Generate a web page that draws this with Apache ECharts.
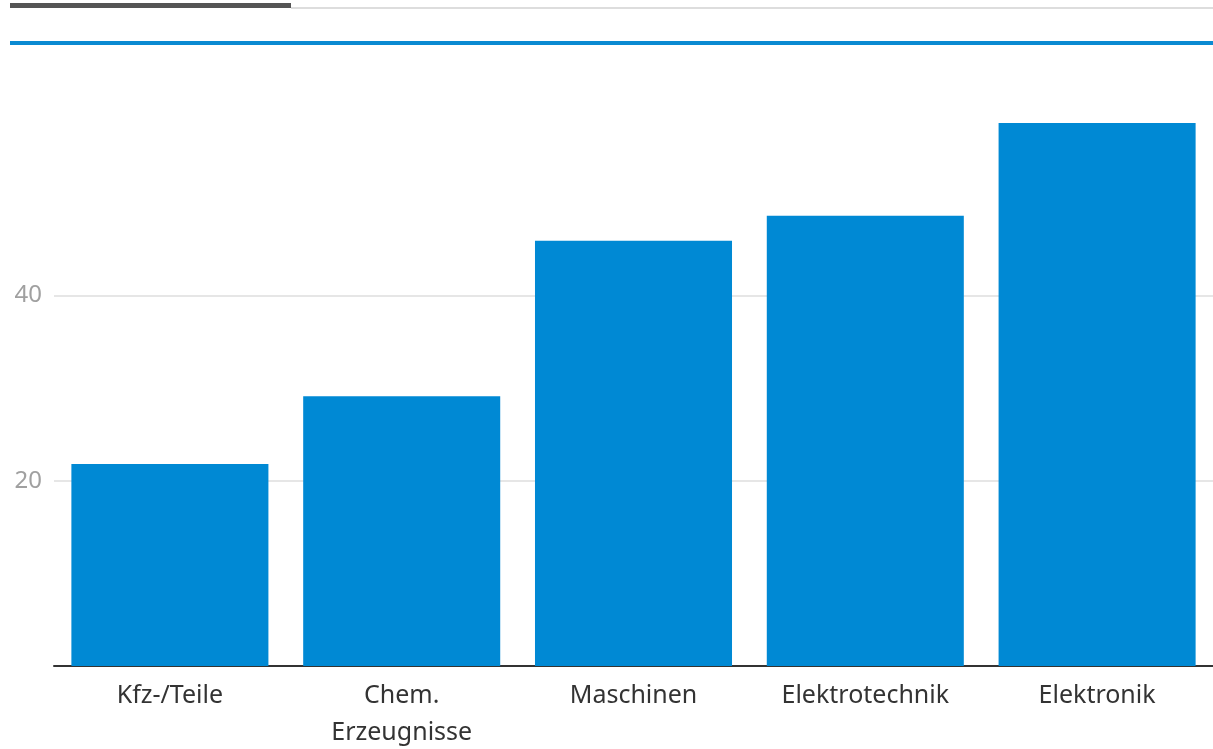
<!DOCTYPE html>
<html>
<head>
<meta charset="utf-8">
<script src="https://cdn.jsdelivr.net/npm/echarts@6/dist/echarts.min.js"></script>
<style>
  html, body { margin: 0; padding: 0; background: #fff; }
  #chart { width: 1213px; height: 749px; }
</style>
</head>
<body>
<div id="chart"></div>
<script>
// Branchen and their values
const categories = ['Kfz-/Teile', 'Chem.\nErzeugnisse', 'Maschinen', 'Elektrotechnik', 'Elektronik'];
const values = [21.8, 29.1, 45.9, 48.6, 58.6];
const yTicks = [20, 40];

const chart = echarts.init(document.getElementById('chart'));
chart.setOption({
  animation: false,
  textStyle: { fontFamily: '"Noto Sans", sans-serif' },
  graphic: [
    // tab strip at the top
    { type: 'rect', shape: { x: 10, y: 3, width: 281, height: 5 }, style: { fill: '#555555' } },
    { type: 'rect', shape: { x: 291, y: 7, width: 922, height: 2 }, style: { fill: '#dddddd' } },
    { type: 'rect', shape: { x: 10, y: 41, width: 1203, height: 4 }, style: { fill: '#0a8ad2' } }
  ],
  grid: { left: 54, right: 0, top: 110, bottom: 83, containLabel: false, outerBoundsMode: 'none' },
  xAxis: {
    type: 'category',
    data: categories,
    axisLine: { show: true, lineStyle: { color: '#333333', width: 2 } },
    axisTick: { show: false },
    axisLabel: { color: '#333333', fontSize: 25, margin: 11, lineHeight: 37 }
  },
  yAxis: {
    type: 'value',
    min: 0,
    max: 60,
    interval: 20,
    axisLine: { show: false },
    axisTick: { show: false, customValues: yTicks },
    axisLabel: { color: '#a0a0a0', fontSize: 24, margin: 12, customValues: yTicks },
    splitLine: { show: true, lineStyle: { color: '#e6e6e6', width: 2 } }
  },
  series: [{
    type: 'bar',
    data: values,
    barCategoryGap: '15%',
    itemStyle: { color: '#0089d4' }
  }]
});
</script>
</body>
</html>
